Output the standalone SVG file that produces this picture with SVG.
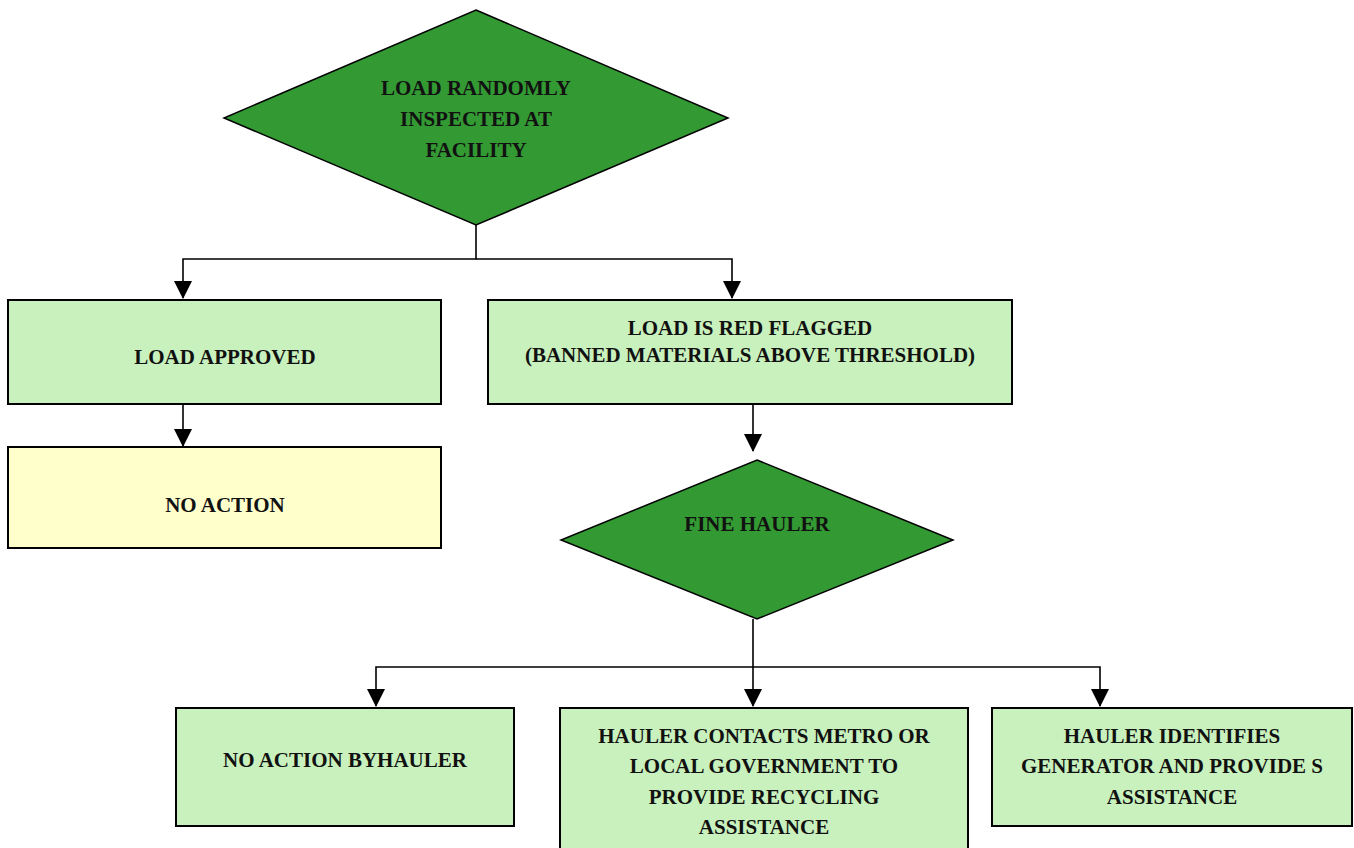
<svg xmlns="http://www.w3.org/2000/svg" width="1354" height="848" viewBox="0 0 1354 848">
<style>
.dec{fill:#339933;stroke:#000;stroke-width:1.5}
.box{fill:#C9F1BD;stroke:#000;stroke-width:2}
.yel{fill:#FFFFCC;stroke:#000;stroke-width:2}
.t{font-family:"Liberation Serif","Times New Roman",serif;font-weight:bold;font-size:21px;fill:#111;text-anchor:middle}
.c{fill:none;stroke:#000;stroke-width:1.6}
</style>
<defs>
<marker id="ah" markerUnits="userSpaceOnUse" markerWidth="18" markerHeight="20" refX="17" refY="9" orient="auto" viewBox="0 0 18 18">
<path d="M0,0 L18,9 L0,18 Z" fill="#000"/>
</marker>
</defs>
<rect width="1354" height="848" fill="#fff"/>
<g id="connectors">
<path class="c" d="M476,225 V259 H183 V298" marker-end="url(#ah)"/>
<path class="c" d="M476,259 H732 V298" marker-end="url(#ah)"/>
<path class="c" d="M183,404 V446" marker-end="url(#ah)"/>
<path class="c" d="M753,404 V451" marker-end="url(#ah)"/>
<path class="c" d="M753,619 V667 H376 V706" marker-end="url(#ah)"/>
<path class="c" d="M753,667 V706" marker-end="url(#ah)"/>
<path class="c" d="M753,667 H1100 V706" marker-end="url(#ah)"/>
</g>
<g id="inspected">
<polygon class="dec" points="476,10 728,118 476,225 224,118"/>
<text class="t" x="476" y="95">LOAD RANDOMLY</text>
<text class="t" x="476" y="126">INSPECTED AT</text>
<text class="t" x="476" y="157">FACILITY</text>
</g>
<g id="approved">
<rect class="box" x="8" y="300" width="433" height="104"/>
<text class="t" x="225" y="364">LOAD APPROVED</text>
</g>
<g id="noaction">
<rect class="yel" x="8" y="447" width="433" height="101"/>
<text class="t" x="225" y="512">NO ACTION</text>
</g>
<g id="redflagged">
<rect class="box" x="488" y="300" width="524" height="104"/>
<text class="t" x="750" y="335">LOAD IS RED FLAGGED</text>
<text class="t" x="750" y="362">(BANNED MATERIALS ABOVE THRESHOLD)</text>
</g>
<g id="fine">
<polygon class="dec" points="757,460 953,540 757,619 561,540"/>
<text class="t" x="757" y="531">FINE HAULER</text>
</g>
<g id="noactionhauler">
<rect class="box" x="176" y="708" width="338" height="118"/>
<text class="t" x="345" y="767">NO ACTION BYHAULER</text>
</g>
<g id="contacts">
<rect class="box" x="560" y="708" width="408" height="150"/>
<text class="t" x="764" y="743">HAULER CONTACTS METRO OR</text>
<text class="t" x="764" y="773">LOCAL GOVERNMENT TO</text>
<text class="t" x="764" y="804">PROVIDE RECYCLING</text>
<text class="t" x="764" y="834">ASSISTANCE</text>
</g>
<g id="identifies">
<rect class="box" x="992" y="708" width="360" height="118"/>
<text class="t" x="1172" y="743">HAULER IDENTIFIES</text>
<text class="t" x="1172" y="773">GENERATOR AND PROVIDE S</text>
<text class="t" x="1172" y="804">ASSISTANCE</text>
</g>
</svg>
